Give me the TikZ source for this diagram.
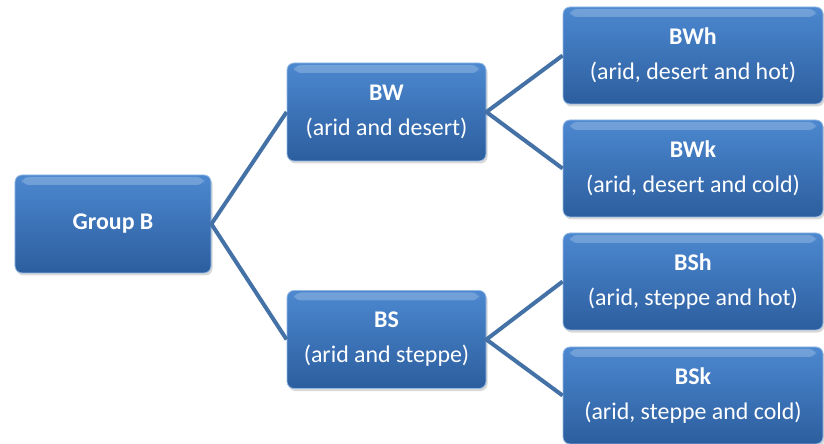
\documentclass[tikz,border=0pt]{standalone}
\usepackage{fontspec}
\setmainfont{Carlito}
\usetikzlibrary{shadows}
\definecolor{boxtop}{RGB}{76,136,208}
\definecolor{boxbot}{RGB}{44,94,158}
\definecolor{linkblue}{RGB}{68,114,166}
\tikzstyle{climate} = [rounded corners=7bp, top color=boxtop, bottom color=boxbot,
  draw=boxtop!60!white, line width=0.8bp, text=white, align=center, inner sep=0pt,
  font=\fontsize{24}{28}\selectfont,
  drop shadow={opacity=0.3, shadow xshift=1.5bp, shadow yshift=-2.5bp},
  path picture={\fill[white,opacity=0.22] ([xshift=7bp,yshift=-2bp]path picture bounding box.north west)
    rectangle ([xshift=-7bp,yshift=-10bp]path picture bounding box.north east);}]
\tikzstyle{group box} = [climate, minimum width=196bp, minimum height=98bp]
\tikzstyle{type box} = [climate, minimum width=199bp, minimum height=98bp]
\tikzstyle{sub box} = [climate, minimum width=260bp, minimum height=97bp]
\tikzstyle{link} = [draw=linkblue, line width=4bp]
\newcommand{\zone}[2]{\textbf{#1}\\[7pt]#2}

\begin{document}
\begin{tikzpicture}[x=1bp,y=-1bp]
    \useasboundingbox (0,0) rectangle (824,444);

    \node[group box] (groupb) at (113,224) {\textbf{Group B}};

    \node[type box] (bw) at (386.5,112)   {\zone{BW}{(arid and desert)}};
    \node[type box] (bs) at (386.5,339.5) {\zone{BS}{(arid and steppe)}};

    \node[sub box] (bwh) at (693,55.5)  {\zone{BWh}{(arid, desert and hot)}};
    \node[sub box] (bwk) at (693,168.5) {\zone{BWk}{(arid, desert and cold)}};
    \node[sub box] (bsh) at (693,281.5) {\zone{BSh}{(arid, steppe and hot)}};
    \node[sub box] (bsk) at (693,395.5) {\zone{BSk}{(arid, steppe and cold)}};

    % branches
    \draw[link] (bw.west) -- (groupb.east) -- (bs.west);
    \draw[link] (bwh.west) -- (bw.east) -- (bwk.west);
    \draw[link] (bsh.west) -- (bs.east) -- (bsk.west);
\end{tikzpicture}
\end{document}
